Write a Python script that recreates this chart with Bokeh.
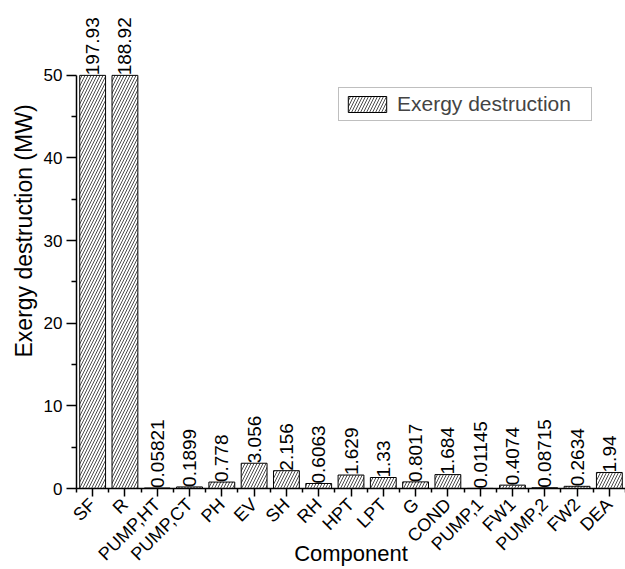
import math
from bokeh.plotting import figure
from bokeh.models import Range1d, FixedTicker, ColumnDataSource, Legend, LegendItem, Title
from bokeh.core.properties import value
from bokeh.embed import file_html
from bokeh.resources import INLINE

components = ["SF", "R", "PUMP,HT", "PUMP,CT", "PH", "EV", "SH", "RH", "HPT", "LPT",
              "G", "COND", "PUMP,1", "FW1", "PUMP,2", "FW2", "DEA"]
exergy = [197.93, 188.92, 0.05821, 0.1899, 0.778, 3.056, 2.156, 0.6063, 1.629, 1.33,
          0.8017, 1.684, 0.01145, 0.4074, 0.08715, 0.2634, 1.94]
y_ticks = [0, 10, 20, 30, 40, 50]
y_minor = [5, 15, 25, 35, 45]
y_max = 50

idx = list(range(len(components)))
tops = [min(v, y_max) for v in exergy]
labels = [str(v) for v in exergy]
src = ColumnDataSource(dict(x=idx, top=tops, label=labels))

FONT = "Liberation Sans"

p = figure(width=625, height=569, output_backend="svg", toolbar_location=None,
           x_range=Range1d(-0.5, len(components) - 0.5), y_range=Range1d(0, 59.06),
           min_border_left=76, min_border_right=0, min_border_top=0, min_border_bottom=80)
p.outline_line_color = None
p.grid.visible = False

bars = p.vbar(x="x", top="top", width=0.8, bottom=0, source=src,
              fill_color="white", line_color="black", line_width=1,
              hatch_pattern="/", hatch_color="black", hatch_scale=6, hatch_weight=0.7)

p.text(x="x", y="top", text="label", source=src, angle=math.pi / 2,
       text_align="left", text_baseline="middle", text_font=value(FONT),
       text_font_size="19px", text_color="black")

# y axis
ya = p.yaxis[0]
ya.bounds = (0, y_max)
ya.ticker = FixedTicker(ticks=y_ticks, minor_ticks=y_minor)
ya.major_tick_out = 10
ya.major_tick_in = 0
ya.minor_tick_out = 5
ya.minor_tick_in = 0

# x axis
xa = p.xaxis[0]
xa.ticker = FixedTicker(ticks=idx, minor_ticks=[i - 0.5 for i in range(len(components) + 1)])
xa.major_label_overrides = {i: c for i, c in enumerate(components)}
xa.major_label_orientation = math.pi / 4
xa.axis_label = "Component"
xa.major_tick_out = 8
xa.major_tick_in = 0
xa.minor_tick_out = 4
xa.minor_tick_in = 0

for ax in (xa, ya):
    ax.axis_line_width = 1.5
    ax.major_tick_line_width = 1.5
    ax.minor_tick_line_width = 1.5
    ax.axis_line_color = "black"
    ax.major_tick_line_color = "black"
    ax.minor_tick_line_color = "black"
    ax.major_label_text_font = FONT
    ax.major_label_text_font_size = "17px"
    ax.major_label_text_color = "black"
    ax.axis_label_text_font = FONT
    ax.axis_label_text_font_size = "22px"
    ax.axis_label_text_font_style = "normal"
    ax.axis_label_text_color = "black"
    ax.major_label_standoff = 4
xa.major_label_text_font_size = "18px"
xa.major_label_standoff = 5
xa.axis_label_standoff = -33

ytitle = Title(text="Exergy destruction (MW)", align="left", offset=131, standoff=8,
               text_font=FONT, text_font_size="23px", text_font_style="normal",
               text_color="black")
p.add_layout(ytitle, "left")

legend = Legend(items=[LegendItem(label="Exergy destruction", renderers=[bars])],
                location=(262, 367), margin=0, padding=4, glyph_width=48, glyph_height=20,
                label_height=20, label_width=190,
                label_standoff=6, label_text_font=FONT, label_text_font_size="21px",
                border_line_color="#808080", border_line_width=1.5,
                background_fill_alpha=1)
p.add_layout(legend, "center")

open("out.html", "w").write(file_html(p, INLINE))
